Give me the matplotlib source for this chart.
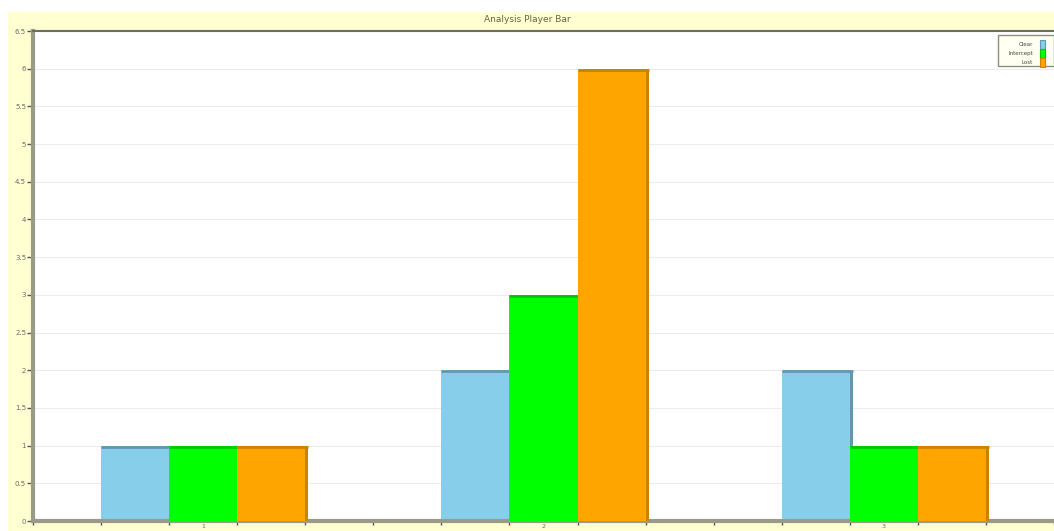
import matplotlib
matplotlib.use("Agg")
import matplotlib.pyplot as plt
from matplotlib.patches import Rectangle
import numpy as np

# Chart data
categories = ["1", "2", "3"]
series_names = ["Clear", "Intercept", "Lost"]
clear_vals = [1, 2, 2]
intercept_vals = [1, 3, 1]
lost_vals = [1, 6, 1]
y_ticks = [0, 0.5, 1, 1.5, 2, 2.5, 3, 3.5, 4, 4.5, 5, 5.5, 6, 6.5]
y_tick_labels = ["0", "0.5", "1", "1.5", "2", "2.5", "3", "3.5", "4", "4.5", "5", "5.5", "6", "6.5"]

fill_colors = ["#87CEEB", "#00FF00", "#FFA500"]
edge_colors = ["#6496B0", "#00C800", "#C98300"]

W, H = 1054, 531
fig = plt.figure(figsize=(W / 100, H / 100), dpi=100)
fig.patch.set_facecolor("white")

# yellow panel behind the chart
fig.add_artist(Rectangle((8 / W, 0), 1, (H - 12) / H, transform=fig.transFigure,
                         facecolor="#FFFFD2", edgecolor="none", zorder=-5))

left, top, right, bottom = 33, 31, 1054, 521
ax = fig.add_axes([left / W, (H - bottom) / H, (right - left) / W, (bottom - top) / H])
ax.set_zorder(1)
ax.set_facecolor("white")

fig.text(527 / W, 1 - 19 / H, "Analysis Player Bar", ha="center", va="center",
         fontsize=6.5, color="#66663F")

group_starts = np.array([1, 6, 11])
bar_w = 1.0
all_vals = [clear_vals, intercept_vals, lost_vals]
for i, vals in enumerate(all_vals):
    xs = group_starts + i * bar_w
    z = 2 + i
    for x0, v in zip(xs, vals):
        # drop shadow on the right, hidden by the neighbouring bar
        ax.add_patch(Rectangle((x0 + bar_w, 0), 0.045, v - 0.01,
                               facecolor=edge_colors[i], edgecolor="none", zorder=z - 0.1))
    ax.bar(xs, vals, width=bar_w, align="edge", color=fill_colors[i],
           edgecolor="none", zorder=z)
    for x0, v in zip(xs, vals):
        # darker top rim
        ax.plot([x0, x0 + bar_w + 0.045], [v - 0.012, v - 0.012], color=edge_colors[i],
                lw=2, solid_capstyle="butt", zorder=z + 0.1)

ax.set_xlim(0, 15)
ax.set_ylim(0, 6.5)
ax.set_yticks(y_ticks)
ax.set_yticklabels(y_tick_labels)
ax.set_xticks(np.arange(0, 16, 1))
ax.set_xticklabels([])
ax.yaxis.grid(True, color="#EBEBEB", lw=0.7, zorder=0)
ax.set_axisbelow(True)

ax.tick_params(axis="y", direction="out", length=4, width=1, colors="#555555",
               labelsize=5, labelcolor="#6A6A6A", pad=1)
ax.tick_params(axis="x", direction="out", length=3, width=1, colors="#555555")

ax.spines["right"].set_visible(False)
ax.spines["left"].set_color("#9A9A88")
ax.spines["left"].set_linewidth(3)
ax.spines["bottom"].set_color("#9A9A88")
ax.spines["bottom"].set_linewidth(3)
ax.spines["top"].set_color("#6E6E5E")
ax.spines["top"].set_linewidth(1.5)

# category labels beneath each group
for c, g in zip(categories, group_starts):
    ax.text(g + 1.5, -0.04, c, ha="center", va="top", fontsize=4.5, color="#6A6A6A",
            clip_on=False)

# legend box in the upper-right corner
lx0, ly0, lx1, ly1 = 998, 35, 1054, 66
fig.add_artist(Rectangle((lx0 / W, 1 - ly1 / H), (lx1 - lx0) / W, (ly1 - ly0) / H,
                         transform=fig.transFigure, facecolor="#FFFFF2",
                         edgecolor="#8E8E80", lw=1, zorder=5))
rows_y = [44, 53, 62]
for name, col, ecol, ry in zip(series_names, fill_colors, edge_colors, rows_y):
    fig.text(1033 / W, 1 - ry / H, name, ha="right", va="center", fontsize=4,
             color="#444444", zorder=6)
    fig.add_artist(Rectangle((1040 / W, 1 - (ry + 4.5) / H), 5 / W, 9 / H,
                             transform=fig.transFigure, facecolor=col,
                             edgecolor=ecol, lw=0.8, zorder=6))

fig.savefig("out.png", dpi=100, facecolor=fig.get_facecolor())
